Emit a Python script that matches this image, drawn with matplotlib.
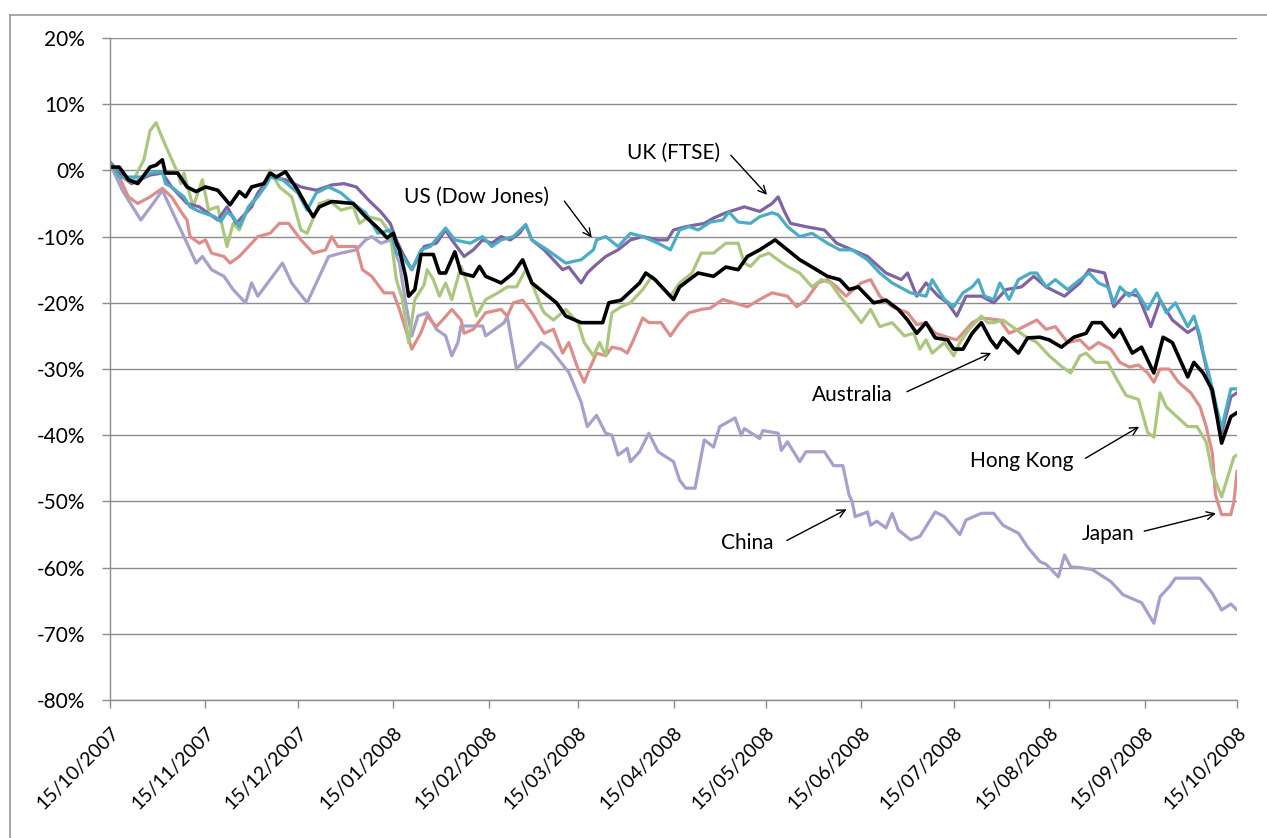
import matplotlib
matplotlib.use('Agg')
import matplotlib.pyplot as plt
import matplotlib.transforms as mtransforms
from matplotlib.ticker import FuncFormatter
from matplotlib.lines import Line2D
import numpy as np

plt.rcParams['font.family'] = ['Lato', 'DejaVu Sans']

start = np.datetime64('2007-10-15')
end = np.datetime64('2008-10-15')

# values in %, x in days after 15/10/2007
china_days = [0, 4, 8, 10, 14, 17, 22, 25, 28, 30, 33, 37, 40, 44, 46, 48, 56, 59, 64, 71, 75, 80, 83, 85,
              88, 91, 94, 96, 98, 100, 103, 106, 109, 111, 113, 114, 121, 122, 125, 128, 129, 132, 135, 140,
              143, 149, 153, 155, 158, 161, 163, 165, 168, 169, 172, 175, 178, 183, 185, 187, 190, 193, 196,
              198, 203, 205, 206, 211, 212, 217, 218, 220, 224, 226, 232, 235, 238, 240, 241, 242, 246, 247,
              249, 252, 254, 256, 260, 263, 268, 271, 276, 278, 283, 287, 290, 295, 298, 302, 304, 308, 310,
              312, 315, 319, 325, 329, 335, 339, 341, 344, 346, 354, 358, 361, 364, 366]
china_vals = [1, -3, -6, -7.5, -5, -3, -8, -11, -14, -13, -15, -16, -18, -20, -17, -19, -14, -17, -20, -13,
              -12.5, -12, -10.5, -10, -11, -10.5, -14, -20, -25, -22, -21.5, -24, -25, -28, -26, -23.5, -23.5,
              -25, -24, -23, -22, -30, -28.5, -26, -27, -30.5, -35, -38.7, -37, -39.7, -40, -43, -42, -44,
              -42.5, -39.7, -42.5, -44, -46.8, -48, -48, -40.7, -41.8, -38.7, -37.4, -40, -39, -40.5, -39.3,
              -39.7, -42.3, -41, -44, -42.5, -42.5, -44.6, -44.6, -49, -50, -52.3, -51.6, -53.6, -53, -54,
              -51.8, -54.3, -55.8, -55.3, -51.6, -52.3, -55, -52.8, -51.8, -51.8, -53.6, -54.8, -56.9, -59.1,
              -59.5, -61.4, -58.1, -59.9, -60, -60.3, -62.1, -64.1, -65.3, -68.4, -64.4, -62.9, -61.6, -61.6,
              -63.9, -66.4, -65.5, -66.4]

japan_days = [0, 3, 6, 9, 13, 17, 20, 23, 25, 26, 29, 31, 33, 37, 39, 42, 45, 48, 52, 55, 58, 62, 66, 70,
              72, 74, 80, 82, 85, 89, 92, 94, 98, 101, 103, 106, 108, 111, 114, 115, 118, 122, 127, 129, 131,
              134, 137, 141, 144, 147, 149, 152, 154, 156, 158, 161, 163, 166, 168, 170, 173, 175, 179, 182,
              185, 188, 192, 195, 199, 207, 211, 215, 220, 223, 226, 230, 233, 236, 239, 244, 247, 250, 254,
              259, 262, 265, 268, 272, 275, 280, 283, 289, 292, 295, 301, 304, 307, 311, 315, 318, 321, 325,
              328, 331, 334, 337, 339, 341, 344, 347, 351, 354, 356, 358, 359, 361, 364, 365, 366]
japan_vals = [0.5, -1, -4, -5, -4, -2.7, -4, -6.2, -7.5, -10, -11, -10.5, -12.5, -13, -14, -13, -11.5, -10,
              -9.5, -8, -8, -10.5, -12.5, -12, -10, -11.5, -11.5, -15, -16, -18.5, -18.5, -21, -27, -24.5,
              -22, -23.6, -22.6, -21, -22.6, -24.6, -24, -21.5, -21, -22, -20, -19.6, -21.5, -24.6, -24,
              -27.6, -26, -30, -32, -29.7, -27.6, -28, -26.7, -27, -27.6, -25.6, -22.3, -23, -23, -25, -23,
              -21.5, -21, -20.8, -19.5, -20.6, -19.5, -18.5, -19, -20.6, -19.6, -17, -16.5, -17.6, -19, -17,
              -16.5, -19, -20.6, -21.5, -23.3, -23, -24.6, -25.2, -25.6, -23, -22.3, -22.6, -24.6, -24, -22.6,
              -24, -23.6, -26, -25.6, -27, -26, -27, -29, -29.7, -29.4, -30.6, -32, -30, -30, -32, -33.6,
              -35.7, -38.7, -42.7, -49, -52, -52, -50, -45.5]

hk_days = [0, 3, 7, 11, 13, 15, 16, 18, 22, 23, 24, 27, 30, 32, 35, 38, 40, 42, 45, 49, 52, 55, 59, 62, 64,
           68, 71, 75, 79, 81, 84, 88, 91, 93, 95, 97, 99, 102, 103, 105, 107, 109, 111, 114, 116, 119, 122,
           126, 129, 132, 135, 137, 140, 141, 144, 148, 152, 154, 157, 159, 161, 162, 163, 166, 169, 173,
           176, 180, 182, 185, 189, 192, 196, 200, 204, 206, 208, 211, 214, 216, 220, 224, 228, 231, 234,
           237, 240, 244, 247, 250, 254, 258, 261, 263, 265, 267, 271, 274, 276, 279, 283, 285, 287, 290,
           293, 297, 301, 305, 309, 312, 315, 317, 320, 324, 327, 330, 334, 337, 339, 341, 343, 346, 350,
           353, 356, 358, 361, 363, 365, 366]
hk_vals = [0.5, -0.7, -2, 1.6, 6, 7.2, 6, 3.8, -0.4, -2, -0.4, -5.5, -1.4, -6, -5.5, -11.5, -8, -9, -5.5, -3,
           0, -2.5, -4, -9, -9.5, -5, -4.5, -6, -5.5, -8, -7, -7.5, -9.5, -16.5, -19.5, -26, -19.5, -17.3,
           -15, -16.5, -19, -17, -19.5, -14.5, -17, -22, -19.5, -18.5, -17.6, -17.6, -15, -17, -20.6, -21.5,
           -22.6, -21, -23, -26, -28, -26, -28, -24.6, -21.5, -20.6, -20, -18, -16, -18, -19, -17, -15.5,
           -12.5, -12.5, -11, -11, -14, -14.5, -13, -12.5, -13.2, -14.5, -15.5, -17.6, -16.5, -17, -19,
           -20.6, -23, -21, -23.6, -23, -25, -24.6, -27, -25.6, -27.6, -26, -28, -26, -24, -22, -23, -23,
           -22.6, -23.6, -25, -26, -28, -29.6, -30.6, -28, -27.6, -29, -29, -31.6, -34, -34.6, -39.6, -40.3,
           -33.6, -35.7, -37, -38.7, -38.7, -41, -45.7, -49.3, -46.3, -43.3, -43]

aus_days = [0, 3, 6, 9, 13, 15, 17, 18, 22, 25, 28, 31, 35, 39, 42, 44, 46, 50, 52, 54, 57, 61, 64, 66, 68,
            72, 79, 83, 87, 90, 92, 93, 94, 96, 97, 99, 101, 105, 107, 109, 112, 114, 118, 120, 122, 127,
            131, 134, 137, 141, 145, 148, 153, 157, 160, 162, 166, 172, 174, 177, 183, 185, 191, 196, 200,
            204, 207, 211, 216, 220, 224, 228, 233, 237, 240, 243, 248, 252, 256, 259, 262, 265, 268, 272,
            274, 277, 280, 283, 286, 288, 290, 295, 298, 302, 305, 309, 313, 317, 319, 322, 326, 328, 332,
            335, 339, 342, 345, 350, 352, 355, 358, 361, 364, 366]
aus_vals = [0.5, 0.5, -1.4, -2, 0.5, 0.8, 1.6, -0.4, -0.4, -2.5, -3.2, -2.5, -3, -5.2, -3.2, -4, -2.5, -2,
            -0.4, -1, -0.2, -3, -5.5, -7, -5.5, -4.7, -5, -7, -8.7, -10.2, -9.5, -11, -12, -16, -19, -18,
            -12.7, -12.7, -15.5, -15.5, -12.3, -15.5, -16, -14.5, -16, -17, -15.5, -13.5, -17, -18.5, -20,
            -22, -23, -23, -23, -20, -19.6, -17, -15.5, -16.5, -19.5, -17.6, -15.5, -16, -14.6, -15, -13,
            -12, -10.5, -12, -13.5, -14.6, -16, -16.5, -18, -17.6, -20, -19.6, -21, -22.6, -24.6, -23, -25.3,
            -25.6, -27, -27, -24.6, -23, -25.6, -26.8, -25.3, -27.6, -25.3, -25.2, -25.6, -26.7, -25.2,
            -24.6, -23, -23, -25.2, -24, -27.6, -26.7, -30.6, -25.2, -26, -31.2, -29, -30.6, -33.2, -41.2,
            -37.2, -36.6]

us_days = [0, 3, 11, 13, 17, 18, 20, 24, 26, 29, 34, 36, 38, 40, 42, 45, 48, 51, 52, 56, 61, 64, 67, 71, 75,
           79, 83, 87, 91, 93, 95, 98, 101, 104, 109, 112, 117, 121, 124, 127, 131, 135, 137, 142, 145, 148,
           153, 157, 158, 161, 165, 169, 173, 178, 182, 185, 188, 191, 195, 199, 201, 204, 208, 211, 215,
           217, 220, 224, 228, 233, 237, 241, 246, 250, 254, 260, 265, 267, 271, 274, 277, 280, 282, 284,
           287, 289, 292, 295, 299, 301, 304, 307, 311, 315, 318, 321, 324, 326, 328, 331, 333, 337, 340,
           343, 346, 350, 352, 354, 355, 357, 360, 361, 364, 366]
us_vals = [1, -1, -1, -0.4, -0.2, -2, -2.5, -4, -5.5, -6.2, -7, -7.7, -6.3, -7, -8.5, -5.5, -4, -2, -1, -1.4,
           -3.4, -6, -3.4, -2.5, -3.4, -5, -6.4, -9.5, -9, -12.5, -13, -15, -12, -11.5, -8.7, -10.5, -11,
           -10, -11.5, -10.5, -10, -8.2, -10.5, -12, -13, -14, -13.5, -12, -10.5, -10, -11.5, -9.5, -10,
           -11, -12, -9, -8.5, -9, -7.8, -7.5, -6.3, -7.8, -8, -7, -6.4, -6.7, -8.5, -10, -9.5, -11, -12,
           -12, -13.5, -15.5, -17, -18.5, -19, -16.5, -19.5, -20.6, -18.5, -17.6, -16.5, -19, -19.5, -17,
           -19.5, -16.5, -15.5, -15.5, -17.6, -16.5, -18, -16.5, -15.5, -17, -17.6, -20, -17.6, -19, -18,
           -21, -18.5, -21.5, -20, -23.6, -22, -25, -27.5, -31, -37, -39, -33, -33]

uk_days = [0, 3, 7, 13, 17, 20, 25, 29, 35, 38, 41, 46, 48, 52, 57, 62, 67, 72, 76, 80, 84, 88, 91, 93, 95,
           98, 102, 106, 109, 111, 115, 118, 121, 124, 127, 130, 133, 135, 137, 141, 144, 147, 149, 153,
           155, 157, 161, 165, 169, 173, 178, 181, 183, 187, 193, 196, 200, 206, 211, 215, 217, 219, 221,
           226, 232, 236, 241, 246, 252, 257, 259, 262, 265, 269, 272, 275, 278, 283, 287, 291, 296, 300,
           304, 310, 315, 318, 323, 326, 330, 334, 338, 341, 345, 350, 353, 356, 359, 361, 364, 366]
uk_vals = [1.3, -0.4, -2, -0.7, -0.4, -2.5, -5, -5.5, -7.5, -5.5, -8, -5.5, -3.4, -1, -1.4, -2.5, -3, -2.2,
           -2, -2.5, -4.5, -6.3, -8, -10.5, -12.5, -15, -11.5, -11, -9, -10.5, -13, -12, -10.5, -11, -10,
           -10.5, -9.5, -8.2, -10.5, -12, -13.5, -15, -14.6, -17, -15.5, -14.6, -13, -12, -10.5, -10, -10.5,
           -10.5, -9, -8.5, -8, -7.2, -6.4, -5.5, -6.2, -5, -4, -6.2, -8, -8.5, -9, -11, -12, -13, -15.5,
           -16.5, -15.5, -19, -17, -19, -20, -22, -19, -19, -20, -18, -17.6, -16, -17.6, -19, -17, -15,
           -15.5, -20.6, -18.5, -19, -23.6, -19.6, -22.6, -24.5, -23.6, -29.7, -36.2, -39.7, -34.2, -33.6]

series = [
    ('China', china_days, china_vals, '#A6A0CC', 2.3),
    ('Japan', japan_days, japan_vals, '#DC8E8A', 2.3),
    ('Hong Kong', hk_days, hk_vals, '#ABC77F', 2.3),
    ('UK (FTSE)', uk_days, uk_vals, '#8064A2', 2.3),
    ('US (Dow Jones)', us_days, us_vals, '#4BACC6', 2.3),
    ('Australia', aus_days, aus_vals, '#000000', 2.6),
]

# annotations: label, text pos (day, value), arrow tail, arrow head
notes = [
    ('US (Dow Jones)', (119, -4.0), (147, -4.3), (157, -10.5)),
    ('UK (FTSE)', (183, 2.6), (201, 2.6), (214, -4.0)),
    ('Australia', (241, -34.0), (258, -33.6), (287, -27.4)),
    ('Hong Kong', (296, -43.9), (316, -43.7), (335, -38.5)),
    ('China', (207, -56.3), (219, -56.1), (240, -51.0)),
    ('Japan', (324, -55.0), (335, -54.6), (360, -51.7)),
]

tick_dates = np.array(['2007-10-15', '2007-11-15', '2007-12-15', '2008-01-15', '2008-02-15',
                       '2008-03-15', '2008-04-15', '2008-05-15', '2008-06-15', '2008-07-15',
                       '2008-08-15', '2008-09-15', '2008-10-15'], dtype='datetime64[D]')


def to_dates(days):
    return start + np.array(np.round(days), dtype='timedelta64[D]')


fig = plt.figure(figsize=(12.67, 8.38), dpi=100)
ax = fig.add_axes([110 / 1267, 1 - 700 / 838, 1127 / 1267, 662 / 838])

# chart area border (left and top visible)
fig.add_artist(Line2D([10 / 1267, 10 / 1267], [0, 1 - 15 / 838], transform=fig.transFigure,
                      color='#9a9a9a', lw=1.2))
fig.add_artist(Line2D([10 / 1267, 1], [1 - 15 / 838, 1 - 15 / 838], transform=fig.transFigure,
                      color='#9a9a9a', lw=1.2))

for name, days, vals, col, lw in series:
    ax.plot(to_dates(days), vals, color=col, lw=lw, solid_joinstyle='round')

for text, tpos, tail, head in notes:
    ax.text(to_dates([tpos[0]])[0], tpos[1], text, fontsize=15, ha='center', va='center')
    ax.annotate('', xy=(to_dates([head[0]])[0], head[1]), xytext=(to_dates([tail[0]])[0], tail[1]),
                arrowprops=dict(arrowstyle='->', color='black', lw=1.0, mutation_scale=14))

ax.set_xlim(start, end)
ax.set_ylim(-80, 20)
ax.set_yticks(np.arange(-80, 21, 10))
ax.yaxis.set_major_formatter(FuncFormatter(lambda v, p: '%d%%' % v))
ax.grid(axis='y', color='#8c8c8c', lw=1.0)
ax.set_axisbelow(True)

ax.set_xticks(tick_dates)
ax.set_xticklabels([str(d)[8:10] + '/' + str(d)[5:7] + '/' + str(d)[0:4] for d in tick_dates],
                   rotation=45, ha='right', rotation_mode='anchor', fontsize=14)
offset = mtransforms.ScaledTranslation(8 / 100, 0, fig.dpi_scale_trans)
for lab in ax.get_xticklabels():
    lab.set_transform(lab.get_transform() + offset)

ax.tick_params(axis='x', direction='out', length=6, width=1, color='#8c8c8c', pad=11)
ax.tick_params(axis='y', direction='out', length=6, width=1, color='#8c8c8c', pad=12, labelsize=15)
for s in ['top', 'right']:
    ax.spines[s].set_visible(False)
for s in ['left', 'bottom']:
    ax.spines[s].set_color('#8c8c8c')
    ax.spines[s].set_linewidth(1.0)

fig.savefig('out.png', dpi=100)
